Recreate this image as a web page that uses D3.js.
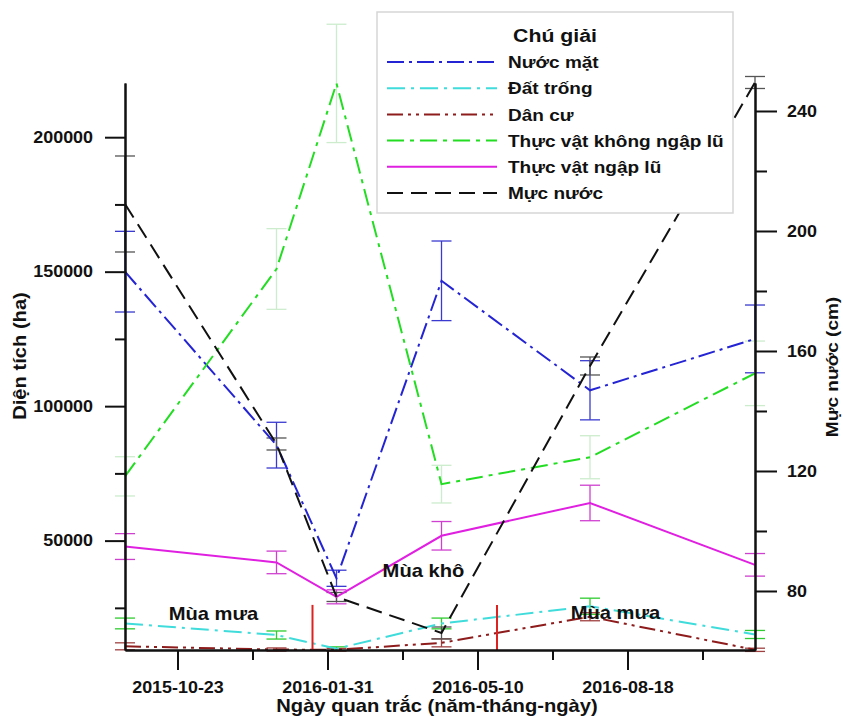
<!DOCTYPE html>
<html>
<head>
<meta charset="utf-8">
<script src="https://cdn.jsdelivr.net/npm/d3@7"></script>
<style>
html,body{margin:0;padding:0;background:#fff;}
svg text{font-family:"Liberation Sans",Arial,sans-serif;font-weight:bold;fill:#111;}
</style>
</head>
<body>
<svg id="chart" width="843" height="716"></svg>
<script>
// ---------- data ----------
const dates = ["2015-09-18","2015-12-28","2016-02-06","2016-04-16","2016-07-24","2016-11-11"];
const nuocMat      = [150000, 85500, 36000, 146600, 105900, 125000];
const nuocMatErr   = [15000, 8500, 3000, 14800, 11000, 12600];
const datTrong     = [19200, 14900, 9800, 19200, 25600, 15100];
const datTrongErr  = [2000, 1500, 700, 2000, 3000, 1500];
const danCu        = [10700, 9500, 9400, 12000, 21700, 9400];
const danCuErr     = [1300, 600, 500, 1500, 1500, 600];
const tvKhongNgap     = [73900, 151000, 220000, 71000, 81000, 112200];
const tvKhongNgapErr  = [7300, 15000, 22000, 7000, 8000, 12000];
const tvNgap       = [47800, 41900, 29100, 51800, 64000, 41000];
const tvNgapErr    = [4800, 4200, 2600, 5300, 6600, 4200];
const mucNuoc      = [209, 129, 78, 66, 155, 249.5];
const mucNuocErr   = [16, 2, 1.5, 2, 3, 2];

const xTickDates  = ["2015-10-23","2016-01-31","2016-05-10","2016-08-18"];
const xMinorDates = ["2015-12-12","2016-03-21","2016-06-29","2016-10-07"];
const yLeftTicks  = [50000, 100000, 150000, 200000];
const yLeftMinor  = [25000, 75000, 125000, 175000];
const yRightTicks = [80, 120, 160, 200, 240];
const yRightMinor = [100, 140, 180, 220];
const seasonBounds = ["2016-01-21","2016-05-23"];
const seasonBoundTop = 26100;
const seasonLabels = [
  {text:"Mùa mưa", date:"2015-11-16", value:20500},
  {text:"Mùa khô", date:"2016-04-04", value:36500},
  {text:"Mùa mưa", date:"2016-08-10", value:20900}
];
const legendTitle = "Chú giải";
const xTitle = "Ngày quan trắc (năm-tháng-ngày)";
const yLeftTitle = "Diện tích (ha)";
const yRightTitle = "Mực nước (cm)";

// ---------- layout ----------
const parse = d3.utcParse("%Y-%m-%d");
const SX = 1.12;
const L = 125, R = 755, T = 83, B = 650;
const svg = d3.select("#chart");

const x = d3.scaleUtc().domain([parse(dates[0]), parse(dates[dates.length-1])]).range([L, R]);
const yL = d3.scaleLinear().domain([9330, 220150]).range([B, T]);
const yR = d3.scaleLinear().domain([60.33, 249.33]).range([B, T]);

function stretch(sel, sx){
  sel.each(function(){
    const t = d3.select(this);
    const xx = +t.attr("x") || 0;
    t.attr("transform", `translate(${xx*(1-sx)},0) scale(${sx},1)`);
  });
}

const series = [
  {name:"Nước mặt", vals:nuocMat, err:nuocMatErr, color:"#2424d4", errColor:"#3a3ad0", dash:"17,5,3,5", axis:"L"},
  {name:"Đất trống", vals:datTrong, err:datTrongErr, color:"#40dcdc", errColor:"#2ecc2e", dash:"18,6,3,6", axis:"L"},
  {name:"Dân cư", vals:danCu, err:danCuErr, color:"#8e1c1c", errColor:"#a04040", dash:"16,5,3,5,3,5", axis:"L"},
  {name:"Thực vật không ngập lũ", vals:tvKhongNgap, err:tvKhongNgapErr, color:"#22dd22", errColor:"#cdeccd", dash:"17,6,4,6", axis:"L"},
  {name:"Thực vật ngập lũ", vals:tvNgap, err:tvNgapErr, color:"#e020e0", errColor:"#d040d0", dash:null, axis:"L"},
  {name:"Mực nước", vals:mucNuoc, err:mucNuocErr, color:"#111111", errColor:"#555555", dash:"16,8", axis:"R"}
];

// ---------- error bars ----------
const gErr = svg.append("g");
series.forEach(s => {
  const ys = s.axis === "L" ? yL : yR;
  s.vals.forEach((v, i) => {
    const cx = x(parse(dates[i]));
    const y1 = ys(v + s.err[i]), y0 = ys(v - s.err[i]);
    const g = gErr.append("g").attr("stroke", s.errColor).attr("stroke-width", 1.3);
    g.append("line").attr("x1", cx).attr("x2", cx).attr("y1", y1).attr("y2", y0);
    g.append("line").attr("x1", cx-10).attr("x2", cx+10).attr("y1", y1).attr("y2", y1);
    g.append("line").attr("x1", cx-10).attr("x2", cx+10).attr("y1", y0).attr("y2", y0);
  });
});

// ---------- lines ----------
series.forEach(s => {
  const ys = s.axis === "L" ? yL : yR;
  const line = d3.line().x((d,i) => x(parse(dates[i]))).y(d => ys(d));
  svg.append("path").datum(s.vals)
    .attr("d", line).attr("fill", "none")
    .attr("stroke", s.color).attr("stroke-width", 2)
    .attr("stroke-dasharray", s.dash);
});

// ---------- season boundaries ----------
seasonBounds.forEach(d => {
  svg.append("line").attr("x1", x(parse(d))).attr("x2", x(parse(d)))
    .attr("y1", yL(seasonBoundTop)).attr("y2", B)
    .attr("stroke", "#dd2222").attr("stroke-width", 2);
});
seasonLabels.forEach(s => {
  const t = svg.append("text").attr("x", x(parse(s.date))).attr("y", yL(s.value))
    .attr("text-anchor", "middle").attr("font-size", 18).text(s.text);
  stretch(t, SX);
});

// ---------- axes ----------
function styleAxis(g){
  g.select(".domain").attr("stroke", "#111").attr("stroke-width", 2);
  g.selectAll(".tick line").attr("stroke", "#111").attr("stroke-width", 2);
  g.selectAll(".tick text").attr("font-size", 16).attr("fill", "#111");
}
const axL = svg.append("g").attr("transform", `translate(${L},0)`)
  .call(d3.axisLeft(yL).tickValues(yLeftTicks).tickFormat(d3.format("d")).tickSize(20).tickPadding(12).tickSizeOuter(0));
styleAxis(axL);
stretch(axL.selectAll(".tick text"), SX);
const axLm = svg.append("g").attr("transform", `translate(${L},0)`)
  .call(d3.axisLeft(yL).tickValues(yLeftMinor).tickFormat("").tickSize(10).tickSizeOuter(0));
styleAxis(axLm);

const axR = svg.append("g").attr("transform", `translate(${R},0)`)
  .call(d3.axisRight(yR).tickValues(yRightTicks).tickFormat(d3.format("d")).tickSize(22).tickPadding(10).tickSizeOuter(0));
styleAxis(axR);
stretch(axR.selectAll(".tick text"), SX);
const axRm = svg.append("g").attr("transform", `translate(${R},0)`)
  .call(d3.axisRight(yR).tickValues(yRightMinor).tickFormat("").tickSize(12).tickSizeOuter(0));
styleAxis(axRm);

const axB = svg.append("g").attr("transform", `translate(0,${B})`)
  .call(d3.axisBottom(x).tickValues(xTickDates.map(parse)).tickFormat(d3.utcFormat("%Y-%m-%d")).tickSize(20).tickPadding(12).tickSizeOuter(0));
styleAxis(axB);
stretch(axB.selectAll(".tick text"), SX);
const axBm = svg.append("g").attr("transform", `translate(0,${B})`)
  .call(d3.axisBottom(x).tickValues(xMinorDates.map(parse)).tickFormat("").tickSize(10).tickSizeOuter(0));
styleAxis(axBm);

// axis titles
const xt = svg.append("text").attr("x", (L+R)/2 - 3).attr("y", 712).attr("text-anchor", "middle")
  .attr("font-size", 18).text(xTitle);
stretch(xt, SX);
const ylg = svg.append("g").attr("transform", "translate(20,356) rotate(-90)");
const ylt = ylg.append("text").attr("x", 0).attr("y", 0).attr("dy", "0.35em").attr("text-anchor", "middle")
  .attr("font-size", 18).text(yLeftTitle);
stretch(ylt, SX);
const yrg = svg.append("g").attr("transform", "translate(832,367) rotate(-90)");
const yrt = yrg.append("text").attr("x", 0).attr("y", 0).attr("dy", "0.35em").attr("text-anchor", "middle")
  .attr("font-size", 17).text(yRightTitle);
stretch(yrt, SX);

// ---------- legend ----------
const lg = svg.append("g");
lg.append("rect").attr("x", 377).attr("y", 12).attr("width", 356).attr("height", 201)
  .attr("fill", "#fff").attr("stroke", "#d6d6d6").attr("stroke-width", 1.5);
const lt = lg.append("text").attr("x", 555).attr("y", 42).attr("text-anchor", "middle")
  .attr("font-size", 19).text(legendTitle);
stretch(lt, SX);
series.forEach((s, i) => {
  const yy = 62 + i * 26.2;
  lg.append("line").attr("x1", 387).attr("x2", 497).attr("y1", yy).attr("y2", yy)
    .attr("stroke", s.color).attr("stroke-width", 2).attr("stroke-dasharray", s.dash);
  const t = lg.append("text").attr("x", 508).attr("y", yy).attr("dy", "0.36em")
    .attr("font-size", 17).text(s.name);
  stretch(t, SX);
});
</script>
</body>
</html>
